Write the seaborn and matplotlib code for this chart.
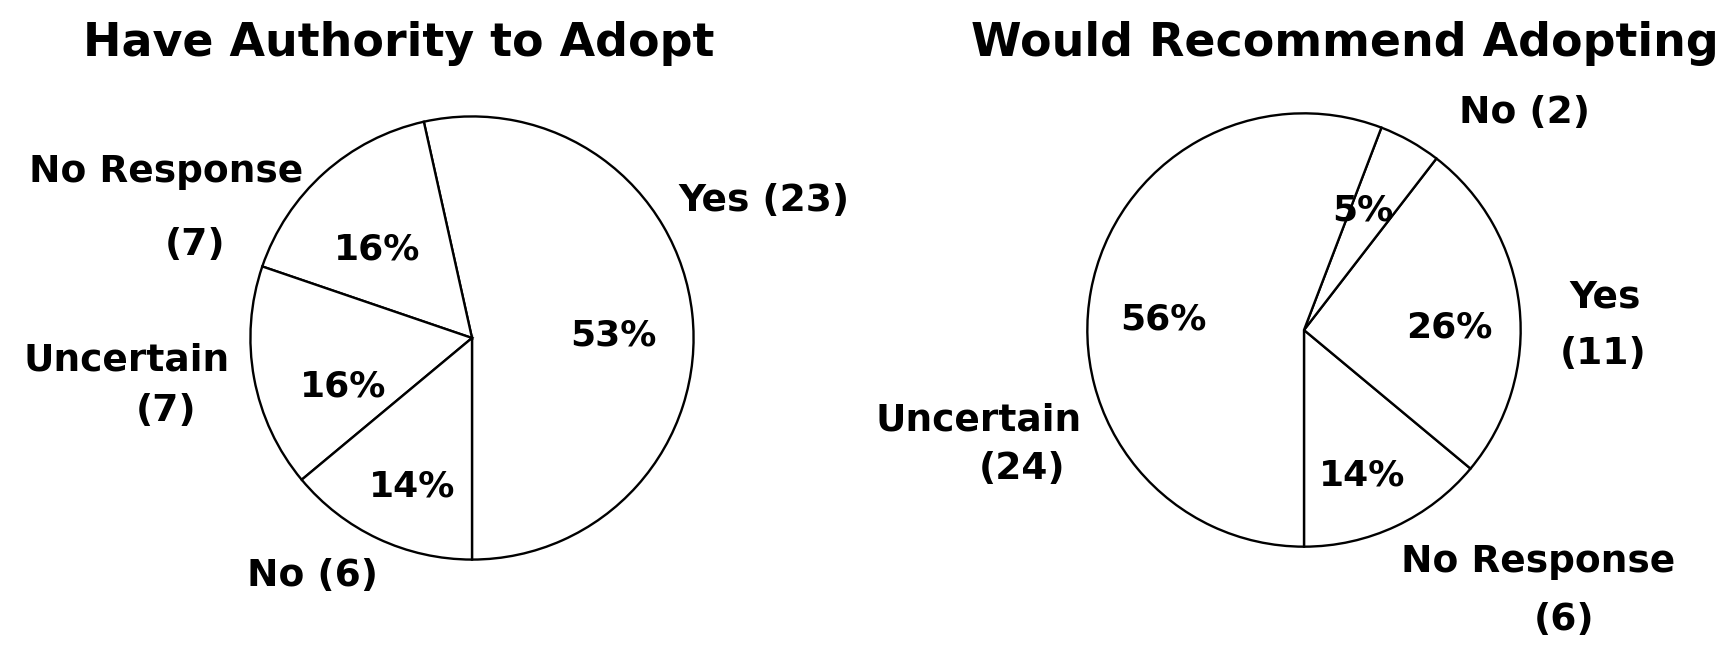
import matplotlib
matplotlib.use("Agg")
import matplotlib.pyplot as plt
import seaborn as sns

sns.set_theme(style="white")
plt.rcParams['font.family'] = ['DejaVu Sans']

# Data (wedge order: counter-clockwise starting at the bottom of each pie)
auth_labels = ["Yes", "No Response", "Uncertain", "No"]
auth_counts = [23, 7, 7, 6]

rec_labels = ["No Response", "Yes", "No", "Uncertain"]
rec_counts = [6, 11, 2, 24]

titles = ["Have Authority to Adopt", "Would Recommend Adopting"]

W, H = 1724, 650
fig = plt.figure(figsize=(W / 100, H / 100), dpi=100)
fig.patch.set_facecolor("white")


def make_ax(cx, cy, r):
    return fig.add_axes([(cx - r) / W, (H - cy - r) / H, 2 * r / W, 2 * r / H])


def pct(counts, i):
    return f"{round(100 * counts[i] / sum(counts))}%"


lab_fs = 27
pct_fs = 26
title_fs = 33
kw = dict(ha="center", va="center", fontweight="bold", color="black")

# ---------- Left pie ----------
ax1 = make_ax(472, 338, 226)
ax1.pie(auth_counts, startangle=-90, counterclock=True, radius=1,
        colors=["white"] * len(auth_counts),
        wedgeprops=dict(edgecolor="black", linewidth=1.7))
ax1.set_xlim(-1.02, 1.02)
ax1.set_ylim(-1.02, 1.02)
ax1.set_aspect("equal")
ax1.axis("off")

ax1.text(-0.33, 1.33, titles[0], fontsize=title_fs, **kw)
ax1.text(1.32, 0.62, f"{auth_labels[0]} ({auth_counts[0]})", fontsize=lab_fs, **kw)
ax1.text(0.64, 0.01, pct(auth_counts, 0), fontsize=pct_fs, **kw)
ax1.text(-1.38, 0.75, auth_labels[1], fontsize=lab_fs, **kw)
ax1.text(-1.25, 0.42, f"({auth_counts[1]})", fontsize=lab_fs, **kw)
ax1.text(-0.43, 0.40, pct(auth_counts, 1), fontsize=pct_fs, **kw)
ax1.text(-1.56, -0.10, auth_labels[2], fontsize=lab_fs, **kw)
ax1.text(-1.38, -0.33, f"({auth_counts[2]})", fontsize=lab_fs, **kw)
ax1.text(-0.58, -0.22, pct(auth_counts, 2), fontsize=pct_fs, **kw)
ax1.text(-0.27, -0.67, pct(auth_counts, 3), fontsize=pct_fs, **kw)
ax1.text(-0.72, -1.075, f"{auth_labels[3]} ({auth_counts[3]})", fontsize=lab_fs, **kw)

# ---------- Right pie ----------
ax2 = make_ax(1304, 330, 221)
ax2.pie(rec_counts, startangle=-90, counterclock=True, radius=1,
        colors=["white"] * len(rec_counts),
        wedgeprops=dict(edgecolor="black", linewidth=1.7))
ax2.set_xlim(-1.02, 1.02)
ax2.set_ylim(-1.02, 1.02)
ax2.set_aspect("equal")
ax2.axis("off")

ax2.text(0.19, 1.32, titles[1], fontsize=title_fs, **kw)
ax2.text(1.08, -1.07, rec_labels[0], fontsize=lab_fs, **kw)
ax2.text(1.20, -1.34, f"({rec_counts[0]})", fontsize=lab_fs, **kw)
ax2.text(0.27, -0.67, pct(rec_counts, 0), fontsize=pct_fs, **kw)
ax2.text(1.39, 0.15, rec_labels[1], fontsize=lab_fs, **kw)
ax2.text(1.38, -0.11, f"({rec_counts[1]})", fontsize=lab_fs, **kw)
ax2.text(0.67, 0.01, pct(rec_counts, 1), fontsize=pct_fs, **kw)
ax2.text(1.02, 1.00, f"{rec_labels[2]} ({rec_counts[2]})", fontsize=lab_fs, **kw)
ax2.text(0.27, 0.55, pct(rec_counts, 2), fontsize=pct_fs, **kw)
ax2.text(-1.50, -0.42, rec_labels[3], fontsize=lab_fs, **kw)
ax2.text(-1.30, -0.64, f"({rec_counts[3]})", fontsize=lab_fs, **kw)
ax2.text(-0.65, 0.05, pct(rec_counts, 3), fontsize=pct_fs, **kw)

fig.savefig("out.png", dpi=100, facecolor="white")
